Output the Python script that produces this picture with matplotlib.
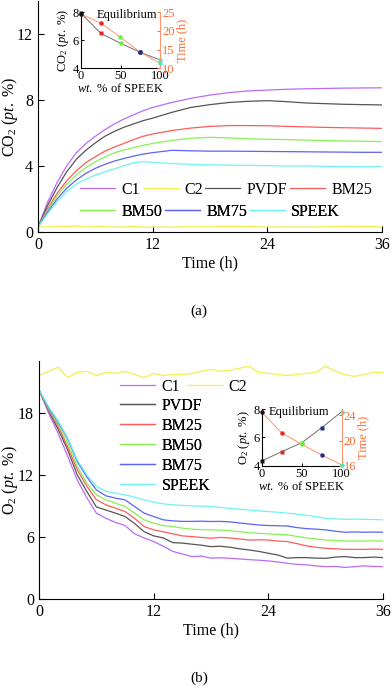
import matplotlib
matplotlib.use("Agg")
import matplotlib.pyplot as plt


# ── Data ──────────────────────────────────────────────────────────────────────
# (a) CO2 concentration vs time
T_CO2 = [0, 1, 2, 3, 4, 5, 6, 7, 8, 9, 10, 11, 12,
         14, 16, 18, 20, 22, 24, 26, 28, 30, 32, 34, 36]
CO2_C1 = [0.3, 1.8, 3.0, 4.0, 4.8, 5.35, 5.8, 6.2, 6.55, 6.85, 7.1, 7.35, 7.55,
          7.85, 8.1, 8.3, 8.45, 8.55, 8.6, 8.65, 8.68, 8.7, 8.72, 8.73, 8.74]
CO2_C2 = [0.32, 0.3, 0.35, 0.33, 0.36, 0.3, 0.34, 0.32, 0.3, 0.31, 0.33, 0.3, 0.29,
          0.3, 0.32, 0.31, 0.34, 0.33, 0.3, 0.31, 0.3, 0.32, 0.34, 0.33, 0.32]
CO2_PVDF = [0.3, 1.6, 2.7, 3.65, 4.4, 4.95, 5.4, 5.8, 6.1, 6.35, 6.55, 6.75, 6.9,
            7.25, 7.55, 7.72, 7.85, 7.92, 7.96, 7.9, 7.82, 7.78, 7.74, 7.72, 7.7]
CO2_BM25 = [0.3, 1.4, 2.35, 3.1, 3.7, 4.2, 4.56, 4.9, 5.15, 5.37, 5.6, 5.8, 5.94,
            6.15, 6.3, 6.4, 6.45, 6.45, 6.44, 6.4, 6.37, 6.34, 6.32, 6.3, 6.28]
CO2_BM50 = [0.3, 1.3, 2.2, 2.9, 3.45, 3.9, 4.26, 4.55, 4.8, 4.97, 5.12, 5.25, 5.37,
            5.55, 5.68, 5.74, 5.7, 5.65, 5.62, 5.6, 5.57, 5.54, 5.52, 5.5, 5.48]
CO2_BM75 = [0.3, 1.2, 2.0, 2.65, 3.15, 3.55, 3.86, 4.1, 4.3, 4.46, 4.6, 4.72, 4.81,
            4.95, 4.92, 4.9, 4.9, 4.89, 4.88, 4.87, 4.86, 4.85, 4.84, 4.83, 4.83]
CO2_SPEEK = [0.3, 1.1, 1.85, 2.45, 2.9, 3.2, 3.45, 3.65, 3.82, 4.02, 4.2, 4.26, 4.22,
             4.15, 4.1, 4.07, 4.05, 4.04, 4.02, 4.0, 4.0, 3.98, 3.97, 3.96, 3.96]

# (b) O2 concentration vs time (hourly)
T_O2 = [0, 1, 2, 3, 4, 5, 6, 7, 8, 9, 10, 11, 12, 13, 14, 15, 16, 17, 18,
        19, 20, 21, 22, 23, 24, 25, 26, 27, 28, 29, 30, 31, 32, 33, 34, 35, 36]
O2_C1 = [20.2, 18.0, 16.0, 13.8, 11.5, 9.8, 8.3, 7.8, 7.4, 7.1, 6.3, 5.9, 5.55,
         5.1, 4.6, 4.35, 4.1, 4.15, 3.95, 3.98, 3.93, 3.87, 3.8, 3.75, 3.68,
         3.58, 3.45, 3.35, 3.3, 3.2, 3.13, 3.15, 3.05, 3.12, 3.2, 3.15, 3.13]
O2_C2 = [21.6, 22.0, 22.4, 21.4, 21.9, 22.0, 21.6, 21.9, 21.8, 22.0, 21.7, 21.4, 21.8,
         21.6, 21.7, 21.7, 21.8, 22.0, 22.2, 22.0, 22.1, 22.3, 22.5, 21.9, 21.8,
         21.7, 21.6, 21.7, 21.8, 21.9, 22.5, 22.0, 21.7, 21.5, 21.7, 21.9, 21.9]
O2_PVDF = [20.2, 18.2, 16.4, 14.4, 12.0, 10.4, 8.9, 8.6, 8.3, 7.97, 7.3, 6.5, 6.1,
           5.9, 5.45, 5.4, 5.3, 5.2, 5.06, 5.1, 5.0, 4.85, 4.74, 4.6, 4.42,
           4.25, 3.95, 4.0, 4.0, 3.95, 3.93, 4.05, 4.1, 4.0, 4.0, 4.05, 4.0]
O2_BM25 = [20.2, 18.3, 16.7, 14.7, 12.5, 10.9, 9.6, 9.1, 8.78, 8.45, 7.8, 7.0, 6.68,
           6.5, 6.3, 6.1, 6.03, 5.95, 5.87, 5.95, 5.9, 5.8, 5.7, 5.72, 5.7,
           5.6, 5.55, 5.35, 5.13, 5.0, 4.9, 4.85, 4.8, 4.8, 4.8, 4.82, 4.8]
O2_BM50 = [20.2, 18.4, 16.9, 15.1, 12.8, 11.2, 10.07, 9.58, 9.26, 8.94, 8.3, 7.65, 7.32,
           7.1, 7.0, 6.85, 6.75, 6.7, 6.68, 6.65, 6.6, 6.5, 6.4, 6.35, 6.29,
           6.25, 6.2, 6.05, 5.9, 5.8, 5.7, 5.65, 5.6, 5.6, 5.6, 5.62, 5.6]
O2_BM75 = [20.2, 18.5, 17.1, 15.5, 13.3, 11.8, 10.55, 9.97, 9.75, 9.58, 8.94, 8.3, 7.97,
           7.65, 7.55, 7.5, 7.5, 7.52, 7.49, 7.5, 7.45, 7.35, 7.25, 7.15, 7.1,
           7.08, 7.05, 6.9, 6.8, 6.75, 6.68, 6.55, 6.45, 6.48, 6.45, 6.47, 6.45]
O2_SPEEK = [20.2, 18.6, 17.2, 15.6, 13.45, 12.0, 10.9, 10.4, 10.23, 10.07, 9.84, 9.58, 9.36,
            9.2, 9.1, 9.05, 9.0, 8.98, 8.94, 8.85, 8.75, 8.68, 8.6, 8.52, 8.45,
            8.38, 8.3, 8.2, 8.1, 7.95, 7.8, 7.75, 7.7, 7.72, 7.7, 7.68, 7.65]

# insets: equilibrium value and time to reach it vs SPEEK content
SPEEK_WT = [0, 25, 50, 75, 100]
CO2_EQ = [7.93, 6.5, 5.79, 5.14, 4.6]
CO2_EQ_TIME = [24.5, 22.1, 18.3, 14.3, 11.3]
O2_EQ = [4.33, 4.99, 5.62, 6.68, 7.81]
O2_EQ_TIME = [24.5, 21.2, 19.4, 17.7, 16.1]

LABELS = ["C1", "C2", "PVDF", "BM25", "BM50", "BM75", "SPEEK"]

# ── Style ─────────────────────────────────────────────────────────────────────
COLORS = {
    "C1": "#BB6CF5",
    "C2": "#F0F050",
    "PVDF": "#555555",
    "BM25": "#FF5A5A",
    "BM50": "#88F055",
    "BM75": "#5A64F5",
    "SPEEK": "#70F2F2",
}
MARKER_COLORS = ["#111111", "#E8232B", "#66F03C", "#1E2C8C", "#3CF0C8"]
ORANGE = "#FF6A33"
ORANGE_LINE = "#FF9470"

plt.rcParams["font.family"] = "Liberation Serif"
plt.rcParams["mathtext.fontset"] = "custom"
plt.rcParams["mathtext.rm"] = "Liberation Serif"
plt.rcParams["mathtext.it"] = "Liberation Serif:italic"

FS = 11.5
FS_IN = 9


def style_main(ax, ylim, yticks, ylabel, left_px):
    ax.set_xlim(0, 36)
    ax.set_ylim(*ylim)
    ax.set_xticks([0, 12, 24, 36])
    ax.set_yticks(yticks)
    ax.spines["top"].set_visible(False)
    ax.spines["right"].set_visible(False)
    ax.tick_params(direction="in", length=4, labelsize=FS, width=0.8)
    ax.set_xlabel("Time (h)", fontsize=FS, labelpad=2)
    ax.set_ylabel(ylabel, fontsize=FS, va="center")
    # ylabel centred close to the left edge of the figure
    ax.yaxis.set_label_coords((9.5 - left_px) / 344, 0.5)


def draw_inset(fig, rect, eq, eq_time, ylabel, tlim, tticks, eq_x):
    ax = fig.add_axes(rect)
    ax.plot(SPEEK_WT, eq, color="#707070", lw=0.7, zorder=1)
    for x, y, c in zip(SPEEK_WT, eq, MARKER_COLORS):
        ax.plot(x, y, "s", color=c, ms=3.2, mec="none", zorder=3, clip_on=False)
    ax.set_xlim(0, 100)
    ax.set_ylim(4, 8)
    ax.set_xticks([0, 50, 100])
    ax.set_yticks([4, 6, 8])
    ax.spines["top"].set_visible(False)
    ax.spines["right"].set_visible(False)
    ax.tick_params(direction="in", length=2.5, labelsize=FS_IN, pad=1.5, width=0.7)
    ax.set_xlabel(r"$wt.$ % of SPEEK", fontsize=FS_IN, labelpad=0)
    ax.set_ylabel(ylabel, fontsize=FS_IN, labelpad=1)
    ax.text(eq_x, 0.95, "Equilibrium", transform=ax.transAxes,
            fontsize=FS_IN, ha="left", va="center")

    axr = ax.twinx()
    axr.plot(SPEEK_WT, eq_time, color=ORANGE_LINE, lw=0.7, zorder=1)
    for x, y, c in zip(SPEEK_WT, eq_time, MARKER_COLORS):
        axr.plot(x, y, "o", color=c, ms=3.2, mec="none", zorder=3, clip_on=False)
    axr.set_ylim(*tlim)
    axr.set_yticks(tticks)
    axr.spines["top"].set_visible(False)
    axr.spines["left"].set_visible(False)
    axr.spines["bottom"].set_visible(False)
    axr.spines["right"].set_color(ORANGE_LINE)
    axr.tick_params(direction="in", length=2.5, labelsize=FS_IN, pad=1.5,
                    colors=ORANGE, width=0.7)
    axr.set_ylabel("Time (h)", fontsize=FS_IN, color=ORANGE, labelpad=1)


def add_legend(ax, fig, handles, ncol, xy, **kw):
    opts = dict(frameon=False, fontsize=FS, handlelength=2.2, handletextpad=0.4,
                columnspacing=0.15, borderpad=0, borderaxespad=0, labelspacing=0.25)
    opts.update(kw)
    leg = ax.legend(handles=handles, ncol=ncol, loc="center left",
                    bbox_to_anchor=(xy[0] / 392, 1 - xy[1] / 687),
                    bbox_transform=fig.transFigure, **opts)
    ax.add_artist(leg)
    return leg


def main():
    fig = plt.figure(figsize=(3.92, 6.87), dpi=100)

    # ── (a) CO2 ──
    ax1 = fig.add_axes([38 / 392, 1 - 232 / 687, 344 / 392, 231 / 687])
    co2 = [CO2_C1, CO2_C2, CO2_PVDF, CO2_BM25, CO2_BM50, CO2_BM75, CO2_SPEEK]
    h1 = []
    for name, data in zip(LABELS, co2):
        line, = ax1.plot(T_CO2, data, color=COLORS[name], lw=0.9, label=name)
        h1.append(line)
    style_main(ax1, (0, 14), [0, 4, 8, 12], r"CO$_2$ ($pt.$ %)", 38)
    add_legend(ax1, fig, h1[:4], 4, (80, 190))
    add_legend(ax1, fig, h1[4:], 3, (80, 212))

    draw_inset(fig, [81 / 392, 1 - 68.3 / 687, 79 / 392, 56 / 687],
               CO2_EQ, CO2_EQ_TIME, r"CO$_2$ ($pt.$ %)", (10, 25), [10, 15, 20, 25], 0.2)

    # ── (b) O2 ──
    ax2 = fig.add_axes([39 / 392, 1 - 599 / 687, 344 / 392, 238 / 687])
    o2 = [O2_C1, O2_C2, O2_PVDF, O2_BM25, O2_BM50, O2_BM75, O2_SPEEK]
    h2 = []
    for name, data in zip(LABELS, o2):
        line, = ax2.plot(T_O2, data, color=COLORS[name], lw=0.9, label=name)
        h2.append(line)
    style_main(ax2, (0, 23), [0, 6, 12, 18], r"O$_2$ ($pt.$ %)", 39)
    add_legend(ax2, fig, h2[:2], 2, (120, 387), columnspacing=0.4)
    add_legend(ax2, fig, h2[2:], 1, (120, 446))

    draw_inset(fig, [261.7 / 392, 1 - 465.7 / 687, 80 / 392, 56.7 / 687],
               O2_EQ, O2_EQ_TIME, r"O$_2$ ($pt.$ %)", (16, 25), [16, 20, 24], 0.09)

    fig.text(199 / 392, 1 - 311 / 687, "(a)", ha="center", va="center", fontsize=11)
    fig.text(199 / 392, 1 - 678 / 687, "(b)", ha="center", va="center", fontsize=11)

    fig.savefig("out.png", dpi=100)
    plt.close(fig)


if __name__ == "__main__":
    main()
